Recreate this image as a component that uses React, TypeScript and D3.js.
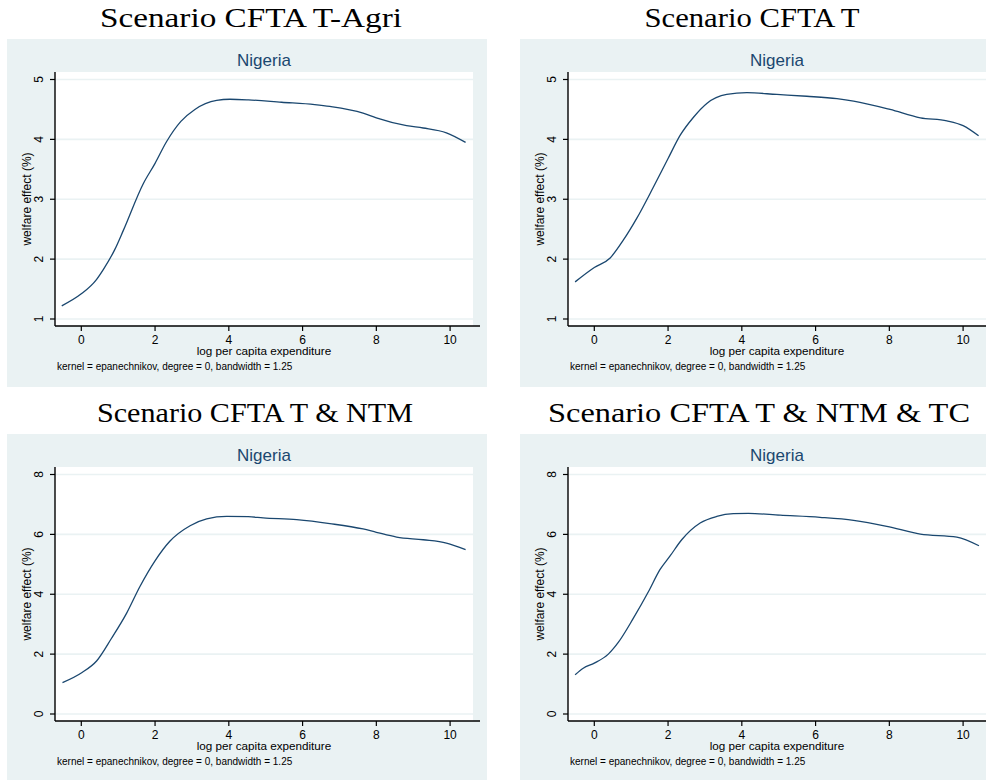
import React from "react";
import * as d3 from "d3";

// Kernel-weighted local polynomial smooth of welfare effect vs log per capita expenditure (Nigeria)
const titles = [
  "Scenario CFTA T-Agri",
  "Scenario CFTA T",
  "Scenario CFTA T & NTM",
  "Scenario CFTA T & NTM & TC",
];

const xTAgri = [-0.53, 0.0, 0.4, 0.6, 0.9, 1.14, 1.68, 2.0, 2.31, 2.7, 3.08, 3.67, 4.03, 4.53, 5.43, 6.33, 6.74, 7.64, 8.0, 8.82, 9.27, 9.9, 10.42];
const yTAgri = [1.22, 1.42, 1.65, 1.83, 2.15, 2.48, 3.26, 3.6, 3.96, 4.3, 4.5, 4.65, 4.67, 4.66, 4.62, 4.58, 4.55, 4.44, 4.36, 4.23, 4.19, 4.11, 3.95];

const xT = [-0.52, 0.0, 0.43, 0.79, 1.15, 1.6, 2.0, 2.33, 2.69, 3.05, 3.59, 4.14, 4.95, 5.76, 6.58, 7.03, 8.02, 8.84, 9.56, 10.0, 10.42];
const yT = [1.62, 1.86, 2.02, 2.32, 2.68, 3.2, 3.68, 4.07, 4.37, 4.6, 4.75, 4.78, 4.75, 4.72, 4.68, 4.64, 4.5, 4.36, 4.31, 4.23, 4.06];

const xTNtm = [-0.51, 0.01, 0.42, 0.82, 1.23, 1.59, 1.99, 2.4, 2.95, 3.4, 3.94, 4.53, 4.93, 5.84, 6.74, 7.64, 8.0, 8.55, 9.27, 9.9, 10.42];
const yTNtm = [1.05, 1.38, 1.78, 2.53, 3.37, 4.26, 5.1, 5.77, 6.29, 6.52, 6.6, 6.59, 6.55, 6.49, 6.36, 6.18, 6.07, 5.91, 5.82, 5.71, 5.49];

const xTNtmTc = [-0.52, -0.3, 0.0, 0.38, 0.65, 1.06, 1.47, 1.78, 2.05, 2.37, 2.87, 3.32, 3.77, 4.18, 5.04, 6.12, 7.03, 7.93, 8.84, 9.83, 10.43];
const yTNtmTc = [1.31, 1.53, 1.7, 2.0, 2.39, 3.2, 4.09, 4.82, 5.27, 5.82, 6.38, 6.6, 6.69, 6.7, 6.64, 6.57, 6.47, 6.27, 6.01, 5.91, 5.62];

const xTicks = [0, 2, 4, 6, 8, 10];
const yTicksTop = [1, 2, 3, 4, 5];
const yTicksBottom = [0, 2, 4, 6, 8];

const subtitle = "Nigeria";
const xLabel = "log per capita expenditure";
const yLabel = "welfare effect (%)";
const note = "kernel = epanechnikov, degree = 0, bandwidth = 1.25";

const BG = "#eaf2f3";
const LINE = "#1a476f";
const SANS = "'Liberation Sans', Arial, sans-serif";

type PanelProps = {
  left: number;
  top: number;
  xs: number[];
  ys: number[];
  yTicks: number[];
};

function Panel({ left, top, xs, ys, yTicks }: PanelProps) {
  const plotL = 48;
  const plotR = 466;
  const plotT = 33;
  const plotB = 287;
  const x = d3.scaleLinear().domain([0, 10]).range([74.3, 74.3 + 368.8]);
  const y = d3
    .scaleLinear()
    .domain([yTicks[0], yTicks[yTicks.length - 1]])
    .range([280, 40.5]);
  const pts: [number, number][] = xs.map((v, i) => [v, ys[i]]);
  const line = d3
    .line<[number, number]>()
    .x((d) => x(d[0]))
    .y((d) => y(d[1]))
    .curve(d3.curveMonotoneX);
  const cx = (plotL + plotR) / 2;
  const cy = (plotT + plotB) / 2;
  return (
    <g transform={`translate(${left},${top})`}>
      <rect x={0} y={0} width={480} height={348} fill={BG} />
      <rect x={plotL} y={plotT} width={plotR - plotL} height={plotB - plotT} fill="#ffffff" />
      <text x={cx} y={27} textAnchor="middle" fontFamily={SANS} fontSize={17} fill={LINE}>
        {subtitle}
      </text>
      {yTicks.map((t) => (
        <line key={"g" + t} x1={plotL} x2={plotR} y1={y(t)} y2={y(t)} stroke={BG} strokeWidth={1.6} />
      ))}
      <path d={line(pts) || ""} fill="none" stroke={LINE} strokeWidth={1.3} />
      <line x1={plotL} x2={plotL} y1={plotT} y2={plotB} stroke="#000" strokeWidth={1.4} />
      <line x1={plotL} x2={plotR + 7} y1={plotB} y2={plotB} stroke="#000" strokeWidth={1.4} />
      {yTicks.map((t) => (
        <g key={"y" + t}>
          <line x1={plotL - 5} x2={plotL} y1={y(t)} y2={y(t)} stroke="#000" strokeWidth={1.2} />
          <text
            transform={`translate(${35.5},${y(t)}) rotate(-90)`}
            textAnchor="middle"
            fontFamily={SANS}
            fontSize={12}
            fill="#000"
          >
            {t}
          </text>
        </g>
      ))}
      {xTicks.map((t) => (
        <g key={"x" + t}>
          <line x1={x(t)} x2={x(t)} y1={plotB} y2={plotB + 5} stroke="#000" strokeWidth={1.2} />
          <text x={x(t)} y={304.5} textAnchor="middle" fontFamily={SANS} fontSize={12} fill="#000">
            {t}
          </text>
        </g>
      ))}
      <text x={cx} y={316} textAnchor="middle" fontFamily={SANS} fontSize={11.7} fill="#000">
        {xLabel}
      </text>
      <text
        transform={`translate(${24},${cy}) rotate(-90)`}
        textAnchor="middle"
        fontFamily={SANS}
        fontSize={12}
        fill="#000"
      >
        {yLabel}
      </text>
      <text x={50} y={330.5} fontFamily={SANS} fontSize={10} fill="#000">
        {note}
      </text>
    </g>
  );
}

const titleLayout = [
  { cx: 251, y: 27, w: 302 },
  { cx: 752, y: 27, w: 215 },
  { cx: 255, y: 422, w: 316 },
  { cx: 759, y: 422, w: 422 },
];

export default function App() {
  const series = [
    { xs: xTAgri, ys: yTAgri, ticks: yTicksTop, left: 7, top: 39 },
    { xs: xT, ys: yT, ticks: yTicksTop, left: 520, top: 39 },
    { xs: xTNtm, ys: yTNtm, ticks: yTicksBottom, left: 7, top: 434 },
    { xs: xTNtmTc, ys: yTNtmTc, ticks: yTicksBottom, left: 520, top: 434 },
  ];
  return (
    <svg
      width={986}
      height={780}
      viewBox="0 0 986 780"
      style={{ position: "absolute", left: 0, top: 0, display: "block", background: "#fff" }}
    >
      <rect x={0} y={0} width={986} height={780} fill="#fff" />
      {titles.map((t, i) => (
        <text
          key={t}
          x={titleLayout[i].cx}
          y={titleLayout[i].y}
          textAnchor="middle"
          fontFamily="'Liberation Serif', 'DejaVu Serif', serif"
          fontSize={28}
          textLength={titleLayout[i].w}
          lengthAdjust="spacingAndGlyphs"
          fill="#000"
        >
          {t}
        </text>
      ))}
      {series.map((s, i) => (
        <Panel key={i} left={s.left} top={s.top} xs={s.xs} ys={s.ys} yTicks={s.ticks} />
      ))}
    </svg>
  );
}
